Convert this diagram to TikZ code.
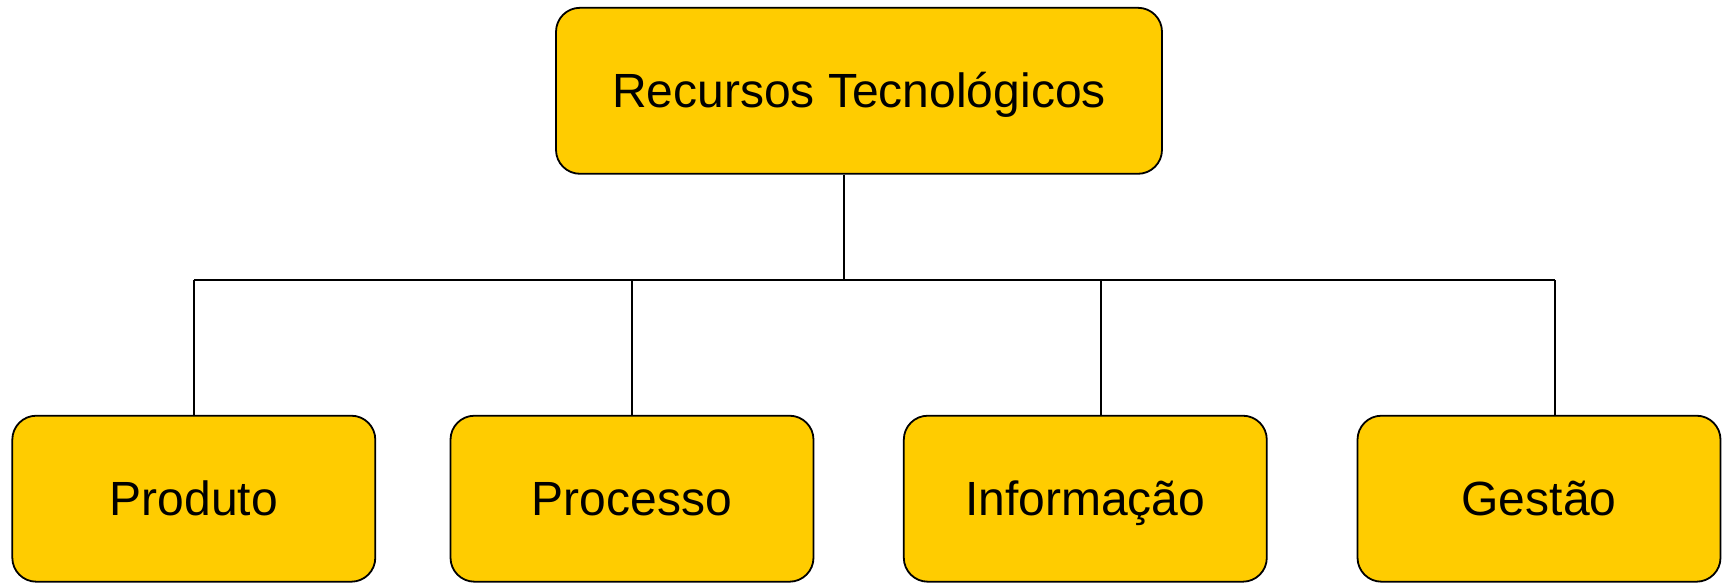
\documentclass[tikz,border=0pt]{standalone}
\usepackage{fontspec}
\setmainfont{Liberation Sans}
\definecolor{boxfill}{HTML}{FFCC00}
\begin{document}
\begin{tikzpicture}[x=1pt,y=-1pt,
  box/.style={draw=black,line width=1.8pt,fill=boxfill,rounded corners=24pt,
    minimum width=#1,minimum height=166pt,inner sep=0pt,
    text height=34pt,text depth=0pt,
    font=\fontsize{48}{52}\selectfont},
  box/.default=363pt,
  conn/.style={draw=black,line width=1.8pt}]
\useasboundingbox (0,0) rectangle (1727,583);
\node[box=606pt] (top) at (859,90.8) {Recursos Tecnológicos};
\node[box] (b1) at (193.8,498.7) {Produto};
\node[box] (b2) at (632,498.7) {Processo};
\node[box] (b3) at (1085.3,498.7) {Informação};
\node[box] (b4) at (1539,498.7) {Gestão};
\coordinate (hub) at (843.7,279.7);
\coordinate (l1) at (193.8,279.7);
\coordinate (r1) at (1555.2,279.7);
\coordinate (t3) at (1101,415.7);
\coordinate (t4) at (1555.2,415.7);
\draw[conn] (top.south -| hub) -- (hub);
\draw[conn] (l1) -- (r1);
\draw[conn] (b1.north) -- (l1);
\draw[conn] (b2.north) -- (b2.north |- hub);
\draw[conn] (t3) -- (t3 |- hub);
\draw[conn] (t4) -- (r1);
\end{tikzpicture}
\end{document}
